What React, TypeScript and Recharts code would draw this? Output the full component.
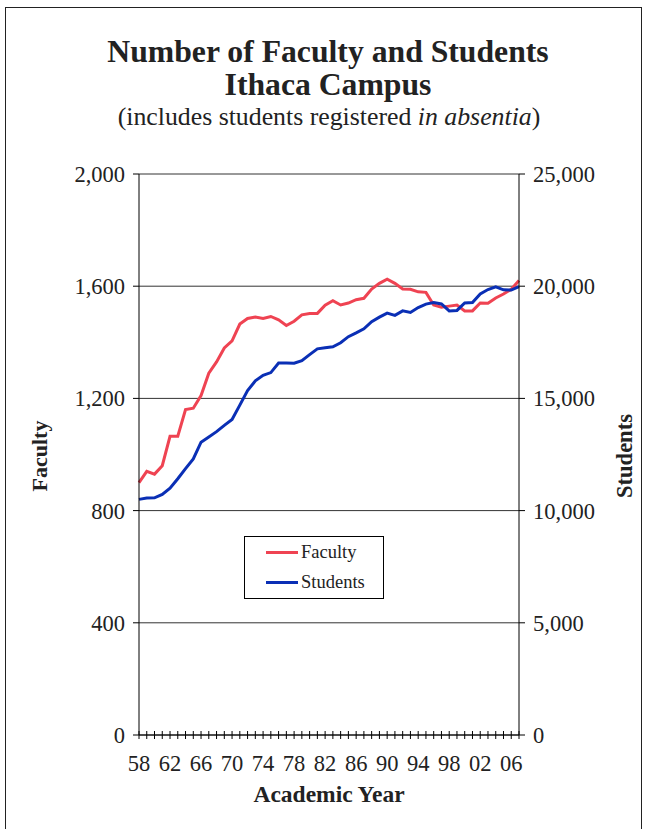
import React from "react";
import {
  LineChart,
  Line,
  XAxis,
  YAxis,
  CartesianGrid,
  Legend,
} from "recharts";

const years = [
  "58", "59", "60", "61", "62", "63", "64", "65", "66", "67",
  "68", "69", "70", "71", "72", "73", "74", "75", "76", "77",
  "78", "79", "80", "81", "82", "83", "84", "85", "86", "87",
  "88", "89", "90", "91", "92", "93", "94", "95", "96", "97",
  "98", "99", "00", "01", "02", "03", "04", "05", "06", "07",
];

const faculty = [
  900, 940, 930, 960, 1065, 1065, 1160, 1165, 1210, 1290,
  1330, 1380, 1405, 1465, 1485, 1490, 1485, 1492, 1480, 1460,
  1475, 1498, 1503, 1503, 1532, 1548, 1533, 1540, 1552, 1557,
  1590, 1610, 1625, 1610, 1590, 1589, 1580, 1578, 1533, 1525,
  1529, 1533, 1512, 1512, 1540, 1539, 1558, 1572, 1589, 1620,
];

const students = [
  10500, 10560, 10570, 10720, 11000, 11420, 11870, 12300, 13050, 13280,
  13520, 13800, 14060, 14700, 15350, 15780, 16030, 16150, 16580, 16580,
  16570, 16680, 16950, 17210, 17260, 17300, 17480, 17750, 17920, 18100,
  18420, 18620, 18800, 18700, 18900, 18830, 19050, 19200, 19270, 19210,
  18900, 18920, 19250, 19275, 19650, 19850, 19970, 19840, 19830, 19980,
];

const facultyTicks = [0, 400, 800, 1200, 1600, 2000];
const studentTicks = [0, 5000, 10000, 15000, 20000, 25000];

const data = years.map((year, i) => ({
  year,
  faculty: faculty[i],
  students: students[i],
}));

const FONT = "'Liberation Serif', 'Times New Roman', serif";
const RED = "#EF4352";
const BLUE = "#0A2FB5";
const TEXT = "#222";

const fmt = (v: number) => v.toLocaleString("en-US");

const XTick = (props: any) => {
  const { x, y, payload, index } = props;
  return (
    <g>
      <line x1={x} x2={x} y1={y - 4} y2={y + 4} stroke="#000" strokeWidth={1} />
      {index % 4 === 0 && (
        <text
          x={x}
          y={y + 36}
          textAnchor="middle"
          fill={TEXT}
          fontSize={22.5}
          fontFamily={FONT}
        >
          {payload.value}
        </text>
      )}
    </g>
  );
};

const LegendBox = () => (
  <div
    style={{
      border: "1px solid #000",
      width: 140,
      height: 63,
      boxSizing: "border-box",
      background: "#fff",
      fontFamily: FONT,
      fontSize: 18.5,
      color: TEXT,
      position: "relative",
    }}
  >
    {[
      { name: "Faculty", color: RED, top: 3 },
      { name: "Students", color: BLUE, top: 33 },
    ].map((it) => (
      <div
        key={it.name}
        style={{
          position: "absolute",
          left: 21,
          top: it.top,
          display: "flex",
          alignItems: "center",
          height: 24,
          whiteSpace: "nowrap",
        }}
      >
        <span
          style={{
            display: "inline-block",
            width: 32,
            height: 3,
            background: it.color,
            marginRight: 3,
          }}
        />
        <span>{it.name}</span>
      </div>
    ))}
  </div>
);

export default function App() {
  return (
    <div
      style={{
        position: "absolute",
        left: 0,
        top: 0,
        width: 646,
        height: 829,
        background: "#fff",
        overflow: "hidden",
      }}
    >
      <div
        style={{
          position: "absolute",
          left: 5,
          top: 7,
          width: 635,
          height: 840,
          borderLeft: "1px solid #222",
          borderTop: "1px solid #222",
          borderRight: "1px solid #222",
        }}
      />
      <LineChart
        width={646}
        height={829}
        data={data}
        margin={{ top: 174, right: 0, bottom: 0, left: 0 }}
      >
        <CartesianGrid
          yAxisId="left"
          vertical={false}
          stroke="#333"
          strokeWidth={1}
        />
        <XAxis
          dataKey="year"
          height={94}
          interval={0}
          tickSize={0}
          tickMargin={0}
          axisLine={{ stroke: "#000" }}
          tickLine={false}
          tick={<XTick />}
        />
        <YAxis
          yAxisId="left"
          orientation="left"
          width={139}
          domain={[0, 2000]}
          ticks={facultyTicks}
          tickFormatter={fmt}
          tickSize={6}
          tickMargin={8}
          axisLine={{ stroke: "#000" }}
          tickLine={{ stroke: "#000" }}
          tick={{ fill: TEXT, fontSize: 22.5, fontFamily: FONT }}
        />
        <YAxis
          yAxisId="right"
          orientation="right"
          width={127}
          domain={[0, 25000]}
          ticks={studentTicks}
          tickFormatter={fmt}
          tickSize={6}
          tickMargin={8}
          axisLine={{ stroke: "#000" }}
          tickLine={{ stroke: "#000" }}
          tick={{ fill: TEXT, fontSize: 22.5, fontFamily: FONT }}
        />
        <Legend
          layout="horizontal"
          verticalAlign="middle"
          align="center"
          content={<LegendBox />}
          wrapperStyle={{ left: 244, top: 536, width: 140, height: 63 }}
        />
        <Line
          yAxisId="left"
          type="linear"
          dataKey="faculty"
          name="Faculty"
          stroke={RED}
          strokeWidth={3}
          dot={false}
          isAnimationActive={false}
        />
        <Line
          yAxisId="right"
          type="linear"
          dataKey="students"
          name="Students"
          stroke={BLUE}
          strokeWidth={3}
          dot={false}
          isAnimationActive={false}
        />
      </LineChart>
      <div
        style={{
          position: "absolute",
          left: 0,
          width: 656,
          top: 36,
          textAlign: "center",
          fontFamily: FONT,
          fontWeight: "bold",
          fontSize: 31.7,
          lineHeight: "31px",
          color: TEXT,
        }}
      >
        Number of Faculty and Students
      </div>
      <div
        style={{
          position: "absolute",
          left: 0,
          width: 656,
          top: 69,
          textAlign: "center",
          fontFamily: FONT,
          fontWeight: "bold",
          fontSize: 31.7,
          lineHeight: "31px",
          color: TEXT,
        }}
      >
        Ithaca Campus
      </div>
      <div
        style={{
          position: "absolute",
          left: 0,
          width: 658,
          top: 104,
          textAlign: "center",
          fontFamily: FONT,
          fontSize: 25.8,
          lineHeight: "25px",
          color: TEXT,
        }}
      >
        (includes students registered <i>in absentia</i>)
      </div>
      <div
        style={{
          position: "absolute",
          left: 40,
          top: 456,
          transform: "translate(-50%, -50%) rotate(-90deg)",
          fontFamily: FONT,
          fontWeight: "bold",
          fontSize: 22,
          color: TEXT,
          whiteSpace: "nowrap",
        }}
      >
        Faculty
      </div>
      <div
        style={{
          position: "absolute",
          left: 625,
          top: 456,
          transform: "translate(-50%, -50%) rotate(-90deg)",
          fontFamily: FONT,
          fontWeight: "bold",
          fontSize: 22.5,
          color: TEXT,
          whiteSpace: "nowrap",
        }}
      >
        Students
      </div>
      <div
        style={{
          position: "absolute",
          left: 0,
          width: 658,
          top: 783,
          textAlign: "center",
          fontFamily: FONT,
          fontWeight: "bold",
          fontSize: 23.5,
          lineHeight: "22px",
          color: TEXT,
        }}
      >
        Academic Year
      </div>
    </div>
  );
}
